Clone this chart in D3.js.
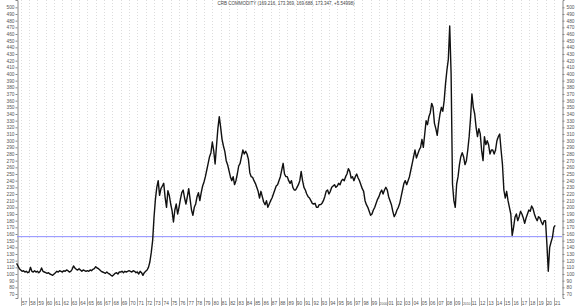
<!DOCTYPE html>
<html>
<head>
<meta charset="utf-8">
<script src="https://cdn.jsdelivr.net/npm/d3@7"></script>
<style>
  body { margin: 0; background: #fff; }
  svg text { font-family: "Liberation Sans", Arial, sans-serif; }
</style>
</head>
<body>
<div id="chart"></div>
<script>
// --- Data ---
const title = "CRB COMMODITY (169.216, 173.369, 169.688, 173.347, +5.54998)";
const startYear = 1956.5;   // first value is Jul 1956
const stepsPerYear = 6;     // one value every two months
const crb = [
  116, 112, 108,                 // 1956
  106, 104, 105, 103, 104, 102,  // 1957
  103, 110, 104, 103, 105, 103,  // 1958
  104, 102, 104, 109, 104, 103,  // 1959
  102, 101, 102, 100, 99, 98,    // 1960
  100, 102, 104, 103, 105, 104,  // 1961
  103, 105, 104, 106, 105, 103,  // 1962
  104, 107, 112, 109, 107, 106,  // 1963
  108, 106, 104, 106, 105, 104,  // 1964
  105, 104, 106, 105, 107, 108,  // 1965
  111, 109, 108, 106, 104, 103,  // 1966
  102, 101, 103, 101, 100, 98,   // 1967
  97, 99, 101, 102, 100, 103,    // 1968
  103, 104, 102, 104, 103, 104,  // 1969
  105, 104, 103, 105, 104, 102,  // 1970
  103, 100, 104, 102, 98, 102,   // 1971
  104, 106, 110, 118, 132, 150,  // 1972
  185, 212, 230, 240, 218, 228,  // 1973
  232, 236, 215, 200, 225, 218,  // 1974
  205, 195, 178, 196, 205, 190,  // 1975
  200, 212, 222, 226, 214, 205,  // 1976
  216, 228, 212, 196, 188, 200,  // 1977
  205, 216, 222, 210, 222, 232,  // 1978
  238, 246, 256, 266, 276, 282,  // 1979
  298, 285, 265, 292, 318, 336,  // 1980
  320, 302, 292, 284, 270, 264,  // 1981
  255, 246, 240, 246, 234, 240,  // 1982
  250, 262, 266, 276, 286, 280,  // 1983
  284, 280, 272, 252, 246, 245,  // 1984
  240, 236, 230, 224, 214, 224,  // 1985
  216, 208, 204, 210, 200, 205,  // 1986
  210, 214, 220, 226, 232, 234,  // 1987
  240, 246, 256, 266, 250, 246,  // 1988
  246, 240, 236, 240, 230, 226,  // 1989
  226, 230, 234, 240, 254, 240,  // 1990
  230, 226, 220, 216, 214, 210,  // 1991
  206, 205, 206, 200, 200, 204,  // 1992
  204, 206, 210, 216, 224, 226,  // 1993
  220, 224, 230, 232, 234, 230,  // 1994
  232, 236, 234, 240, 242, 240,  // 1995
  246, 250, 258, 254, 244, 246,  // 1996
  240, 246, 250, 244, 240, 234,  // 1997
  228, 224, 210, 204, 200, 194,  // 1998
  188, 190, 196, 200, 206, 212,  // 1999
  216, 222, 226, 220, 226, 230,  // 2000
  226, 216, 210, 204, 194, 186,  // 2001
  190, 196, 200, 206, 216, 226,  // 2002
  236, 240, 234, 240, 246, 256,  // 2003
  266, 276, 286, 274, 280, 286,  // 2004
  290, 302, 290, 310, 330, 324,  // 2005
  336, 342, 356, 350, 326, 318,  // 2006
  308, 326, 340, 350, 344, 360,  // 2007
  386, 406, 422, 472, 400, 235,  // 2008
  210, 200, 235, 246, 264, 276,  // 2009
  282, 276, 264, 270, 286, 306,  // 2010
  334, 370, 350, 340, 320, 306,  // 2011
  318, 310, 285, 270, 306, 294,  // 2012
  300, 294, 280, 286, 286, 280,  // 2013
  286, 300, 306, 310, 286, 264,  // 2014
  226, 214, 224, 210, 200, 190,  // 2015
  158, 170, 185, 190, 180, 186,  // 2016
  194, 190, 184, 176, 184, 190,  // 2017
  196, 194, 202, 198, 190, 184,  // 2018
  180, 186, 184, 178, 174, 180,  // 2019
  180, 145, 104, 140, 148, 155,  // 2020
  170, 173                       // 2021
];
const supportLevel = 156;
const yTicks = d3.range(70, 501, 10);
const yearTicks = d3.range(1957, 2022);
const yearLabel = y => (y === 2000 || y === 2010) ? String(y) : String(y).slice(2);

// --- Layout ---
const width = 580, height = 307;
const x = d3.scaleLinear().domain([1956.55, 2021.98]).range([17, 562]);
const y = d3.scaleLinear().domain([64, 511]).range([298, 0]);

const svg = d3.select("#chart").append("svg")
  .attr("width", width)
  .attr("height", height);

// vertical dotted year grid
svg.append("g").selectAll("line")
  .data(yearTicks)
  .enter().append("line")
  .attr("x1", d => Math.round(x(d)) + 0.5)
  .attr("x2", d => Math.round(x(d)) + 0.5)
  .attr("y1", 0)
  .attr("y2", 298)
  .attr("stroke", "#dcdcdc")
  .attr("stroke-width", 1)
  .attr("stroke-dasharray", "1,2");

// x tick marks + labels
const xg = svg.append("g");
xg.selectAll("line")
  .data(yearTicks)
  .enter().append("line")
  .attr("x1", d => Math.round(x(d)) + 0.5)
  .attr("x2", d => Math.round(x(d)) + 0.5)
  .attr("y1", 298)
  .attr("y2", 306)
  .attr("stroke", "#aaa");
xg.selectAll("text")
  .data(yearTicks)
  .enter().append("text")
  .attr("x", d => x(d) + (yearLabel(d).length > 2 ? 0.7 : 1.2))
  .attr("y", 305)
  .attr("font-size", d => yearLabel(d).length > 2 ? 3.4 : 4.8)
  .attr("fill", "#555")
  .text(yearLabel);

// left / right axes
const leftAxis = d3.axisLeft(y).tickValues(yTicks).tickSize(2).tickPadding(1);
const rightAxis = d3.axisRight(y).tickValues(yTicks).tickSize(2).tickPadding(2);
[[leftAxis, 17], [rightAxis, 562]].forEach(([ax, px]) => {
  const g = svg.append("g")
    .attr("transform", `translate(${px + 0.5},0)`)
    .call(ax);
  g.select(".domain").attr("stroke", "#888");
  g.selectAll(".tick line").attr("stroke", "#888");
  g.selectAll("text")
    .attr("font-size", 4.8)
    .attr("fill", "#555")
    .style("font-family", "'Liberation Sans', Arial, sans-serif");
});

// support line
svg.append("line")
  .attr("x1", 17)
  .attr("x2", 562)
  .attr("y1", y(supportLevel))
  .attr("y2", y(supportLevel))
  .attr("stroke", "#8c8cff")
  .attr("stroke-width", 1);

// price line
const line = d3.line()
  .x((d, i) => x(startYear + i / stepsPerYear))
  .y(d => y(d));

svg.append("path")
  .datum(crb)
  .attr("fill", "none")
  .attr("stroke", "#111")
  .attr("stroke-width", 1.4)
  .attr("stroke-linejoin", "round")
  .attr("d", line);

// title
svg.append("text")
  .attr("x", 286)
  .attr("y", 5)
  .attr("text-anchor", "middle")
  .attr("font-size", 4.5)
  .attr("fill", "#444")
  .text(title);
</script>
</body>
</html>
